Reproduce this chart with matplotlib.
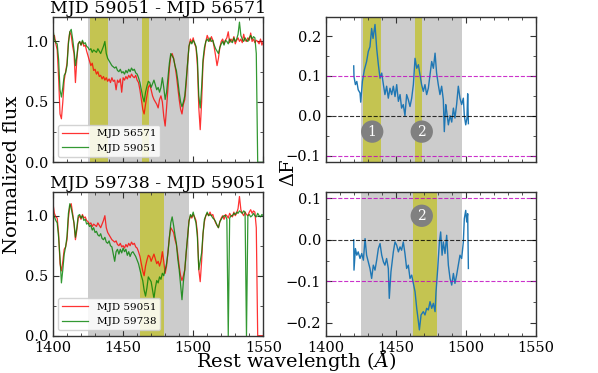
import numpy as np
import matplotlib
matplotlib.use("Agg")
import matplotlib.pyplot as plt
from matplotlib.ticker import MultipleLocator

plt.rcParams['font.family'] = 'serif'
plt.rcParams['font.serif'] = ['DejaVu Serif']
plt.rcParams['mathtext.fontset'] = 'dejavuserif'

# spectra sampled on a 1 A grid, 1400..1550
wave = np.arange(1400, 1551, 1.0)

flux_56571 = [
    1.02, 1.05, 0.98, 0.93, 0.70, 0.40, 0.36, 0.50, 0.68, 0.75,
    0.82, 1.00, 1.08, 1.05, 0.96, 0.90, 0.66, 0.85, 0.98, 1.00,
    0.97, 1.00, 0.96, 0.97, 0.92, 0.88, 0.84, 0.80, 0.82, 0.76,
    0.77, 0.73, 0.75, 0.71, 0.72, 0.69, 0.71, 0.68, 0.70, 0.67,
    0.69, 0.66, 0.70, 0.67, 0.68, 0.60, 0.68, 0.66, 0.69, 0.58,
    0.70, 0.68, 0.71, 0.69, 0.72, 0.70, 0.73, 0.71, 0.70, 0.72,
    0.68, 0.66, 0.60, 0.52, 0.44, 0.40, 0.48, 0.55, 0.62, 0.64,
    0.60, 0.55, 0.52, 0.50, 0.48, 0.45, 0.52, 0.55, 0.50, 0.38,
    0.30, 0.45, 0.62, 0.78, 0.88, 0.90, 0.86, 0.80, 0.72, 0.62,
    0.52, 0.44, 0.40, 0.48, 0.52, 0.65, 0.82, 0.96, 1.02, 0.99,
    1.03, 0.98, 0.95, 0.80, 0.45, 0.27, 0.50, 0.82, 0.92, 1.00,
    1.05, 1.02, 1.00, 1.04, 1.01, 0.95, 0.88, 0.80, 0.86, 0.95,
    1.00, 1.02, 0.98, 1.01, 1.03, 1.08, 0.99, 1.02, 1.00, 1.04,
    0.98, 1.01, 1.03, 1.00, 1.02, 0.99, 1.06, 1.01, 1.00, 1.03,
    1.01, 1.07, 1.00, 1.02, 0.99, 1.01, 1.00, 0.98, 1.02, 0.97,
    1.00]

flux_59051 = [
    1.10, 1.02, 0.99, 0.98, 0.85, 0.60, 0.54, 0.62, 0.72, 0.74,
    0.80, 0.98, 1.08, 1.10, 1.02, 0.93, 0.80, 0.88, 0.98, 1.00,
    0.97, 1.01, 0.98, 0.99, 0.96, 0.95, 0.93, 0.94, 0.91, 0.93,
    0.92, 0.91, 0.94, 0.92, 0.90, 0.93, 0.96, 1.00, 0.90, 0.86,
    0.84, 0.82, 0.80, 0.79, 0.78, 0.79, 0.76, 0.75, 0.77, 0.74,
    0.75, 0.73, 0.76, 0.74, 0.77, 0.75, 0.78, 0.76, 0.77, 0.74,
    0.73, 0.70, 0.66, 0.60, 0.54, 0.50, 0.58, 0.63, 0.67, 0.66,
    0.62, 0.65, 0.68, 0.64, 0.60, 0.62, 0.58, 0.62, 0.70, 0.62,
    0.52, 0.58, 0.70, 0.82, 0.90, 0.88, 0.86, 0.80, 0.76, 0.68,
    0.58, 0.50, 0.46, 0.50, 0.55, 0.68, 0.82, 0.96, 1.00, 0.98,
    1.01, 0.99, 0.96, 0.86, 0.55, 0.45, 0.62, 0.85, 0.95, 1.00,
    1.02, 1.00, 1.03, 1.00, 1.01, 0.97, 0.94, 0.92, 0.90, 0.95,
    0.98, 1.00, 0.97, 1.01, 1.00, 0.98, 1.02, 1.00, 0.99, 1.03,
    1.00, 1.02, 1.06, 1.16, 1.05, 1.02, 1.00, 1.03, 1.01, 1.00,
    1.03, 1.05, 1.02, 1.04, 1.03, 0.90, 0.00, 0.00, 0.00, 0.00,
    0.00]

flux_59738 = [
    1.03, 0.99, 0.96, 0.94, 0.82, 0.65, 0.44, 0.55, 0.68, 0.74,
    0.83, 1.02, 1.10, 1.06, 1.00, 0.94, 0.82, 0.90, 1.00, 1.01,
    0.98, 1.00, 0.96, 0.97, 0.93, 0.94, 0.91, 0.92, 0.88, 0.90,
    0.86, 0.87, 0.84, 0.83, 0.85, 0.81, 0.80, 0.82, 0.78, 0.77,
    0.79, 0.75, 0.74, 0.68, 0.62, 0.70, 0.72, 0.68, 0.72, 0.69,
    0.73, 0.70, 0.72, 0.67, 0.70, 0.66, 0.69, 0.70, 0.68, 0.66,
    0.63, 0.60, 0.55, 0.50, 0.46, 0.38, 0.33, 0.40, 0.49, 0.47,
    0.45, 0.38, 0.31, 0.40, 0.46, 0.44, 0.49, 0.47, 0.52, 0.50,
    0.55, 0.60, 0.69, 0.82, 0.94, 0.99, 0.92, 0.84, 0.77, 0.64,
    0.55, 0.42, 0.30, 0.45, 0.55, 0.70, 0.83, 0.95, 1.01, 0.99,
    1.03, 0.98, 0.94, 0.82, 0.55, 0.62, 0.69, 0.85, 0.97, 1.00,
    1.03, 1.00, 1.01, 1.00, 0.98, 0.97, 0.95, 0.92, 0.90, 0.95,
    0.97, 0.99, 1.00, 1.00, 0.97, 0.00, 0.98, 1.00, 1.00, 1.02,
    1.01, 1.03, 1.02, 1.04, 1.03, 1.02, 1.04, 1.03, 0.00, 1.00,
    1.01, 0.99, 1.00, 1.02, 1.00, 0.99, 1.02, 1.00, 0.99, 1.01,
    1.00]

# flux differences (smoothed)
dwave_1 = [1419.8, 1420, 1421, 1422, 1423, 1424.3, 1424.8, 1426, 1427.4, 1429,
           1430.2, 1431.4, 1432.6, 1433.6, 1435, 1436.2, 1437.4, 1438.6, 1439.8, 1441,
           1442.1, 1443.3, 1444.5, 1445.7, 1446.9, 1448.1, 1449.3, 1450.5, 1451.7, 1452.9,
           1454, 1455.2, 1456.4, 1457.6, 1458.8, 1460, 1461.2, 1462.4, 1463.6, 1464.8,
           1466, 1467.1, 1468.3, 1469.5, 1470.7, 1471.9, 1473.1, 1474.3, 1475.5, 1476.7,
           1477.9, 1479, 1480.2, 1481.4, 1482.6, 1483.8, 1484.5, 1485.5, 1486.2, 1487.4,
           1488.6, 1489.8, 1491, 1492.1, 1493.3, 1494.5, 1495.7, 1496.9, 1498.1, 1498.8,
           1499.8, 1500.7, 1501.2, 1501.7]
dflux_1 = [0.125, 0.098, 0.078, 0.086, 0.065, 0.057, 0.034, 0.086, 0.115, 0.136,
           0.161, 0.173, 0.219, 0.194, 0.229, 0.169, 0.128, 0.094, 0.107, 0.078,
           0.053, 0.074, 0.044, 0.069, 0.053, 0.074, 0.048, 0.078, 0.036, 0.053,
           0.019, 0.028, 0.0, 0.053, 0.040, 0.023, 0.044, 0.078, 0.144, 0.119,
           0.128, 0.103, 0.078, 0.061, 0.078, 0.053, 0.069, 0.103, 0.136, 0.119,
           0.157, 0.107, 0.078, 0.053, 0.074, 0.040, -0.04, 0.028, 0.011, -0.023,
           0.0, -0.016, 0.019, -0.006, 0.028, 0.074, 0.044, 0.028, 0.044, 0.0,
           -0.023, -0.006, 0.055, -0.02]

dwave_2 = [1419.8, 1420, 1421, 1422, 1423, 1424.3, 1425.5, 1426.7, 1427.9, 1429,
           1430.2, 1431.4, 1432.6, 1433.8, 1435, 1436.2, 1437.4, 1438.6, 1439.8, 1441,
           1442.1, 1443.3, 1444.5, 1445.2, 1446.4, 1448.1, 1449.3, 1450.5, 1451.7, 1452.9,
           1454, 1455.2, 1456.4, 1457.6, 1458.8, 1460, 1461.2, 1462.4, 1463.6, 1464.8,
           1466, 1466.7, 1467.9, 1469.5, 1470.7, 1471.9, 1473.1, 1474.3, 1475.5, 1476.7,
           1477.9, 1478.6, 1479.8, 1481, 1481.9, 1482.9, 1483.8, 1485, 1486.2, 1487.4,
           1488.6, 1489.8, 1491, 1492.1, 1493.3, 1494.5, 1495.7, 1496.9, 1498.1, 1498.8,
           1499.8, 1500.5, 1501.2, 1501.7]
dflux_2 = [0.0, -0.073, -0.021, -0.037, -0.029, -0.045, -0.033, -0.049, 0.003, -0.037,
           -0.053, -0.069, -0.093, -0.061, -0.073, -0.049, -0.021, -0.009, -0.037, -0.053,
           -0.061, -0.045, -0.069, -0.141, -0.077, -0.029, -0.005, -0.013, -0.029, -0.017,
           -0.025, -0.005, -0.033, -0.069, -0.061, -0.093, -0.085, -0.105, -0.125, -0.165,
           -0.197, -0.217, -0.181, -0.173, -0.181, -0.165, -0.169, -0.149, -0.165, -0.153,
           -0.173, -0.125, -0.069, -0.005, 0.019, -0.037, -0.005, -0.033, 0.011, -0.061,
           -0.093, -0.109, -0.081, -0.105, -0.085, -0.061, -0.037, -0.045, -0.005, 0.051,
           0.071, 0.043, 0.063, -0.069]

gray_band = (1424.7, 1497.0)
yellow_1 = [(1426.2, 1439.0), (1463.7, 1468.5)]
yellow_2 = [(1462.0, 1479.3)]


def style_axes(ax, ymin, ymax, ymajor, yminor):
    ax.set_xlim(1400, 1550)
    ax.set_ylim(ymin, ymax)
    ax.xaxis.set_major_locator(MultipleLocator(50))
    ax.xaxis.set_minor_locator(MultipleLocator(10))
    ax.yaxis.set_major_locator(MultipleLocator(ymajor))
    ax.yaxis.set_minor_locator(MultipleLocator(yminor))
    ax.tick_params(which='both', direction='in', top=True, right=True,
                   color='0.2', labelsize=10.5)
    ax.tick_params(which='major', length=4)
    ax.tick_params(which='minor', length=2)
    for s in ax.spines.values():
        s.set_color('0.2')
        s.set_linewidth(1.0)


def bands(ax, yellows):
    ax.axvspan(*gray_band, color='gray', alpha=0.4, lw=0)
    for a, b in yellows:
        ax.axvspan(a, b, color='y', alpha=0.6, lw=0)


def circle(ax, x, y, s):
    ax.text(x, y, s, color='white', fontsize=10, ha='center', va='center',
            bbox=dict(boxstyle='circle,pad=0.3', fc='gray', ec='none'))


fig = plt.figure(figsize=(5.98, 3.73), dpi=100)
W, H = 598.0, 373.0
ax1 = fig.add_axes([53 / W, 1 - 162.3 / H, 210.3 / W, 145 / H])
ax2 = fig.add_axes([53 / W, 1 - 335.7 / H, 210.3 / W, 144 / H])
ax3 = fig.add_axes([326 / W, 1 - 162.3 / H, 210 / W, 145 / H])
ax4 = fig.add_axes([326 / W, 1 - 335.7 / H, 210 / W, 144 / H])

# top left
bands(ax1, yellow_1)
ax1.plot(wave, flux_56571, color='r', lw=0.9, alpha=0.8, label='MJD 56571')
ax1.plot(wave, flux_59051, color='g', lw=0.9, alpha=0.8, label='MJD 59051')
style_axes(ax1, 0, 1.2, 0.5, 0.25)
ax1.set_xticklabels([])
ax1.set_title('MJD 59051 - MJD 56571', fontsize=12.5, pad=2)
ax1.legend(loc='lower left', fontsize=7.5, framealpha=0.85, handlelength=2.5)

# bottom left
bands(ax2, yellow_2)
ax2.plot(wave, flux_59051, color='r', lw=0.9, alpha=0.8, label='MJD 59051')
ax2.plot(wave, flux_59738, color='g', lw=0.9, alpha=0.8, label='MJD 59738')
style_axes(ax2, 0, 1.2, 0.5, 0.25)
ax2.set_title('MJD 59738 - MJD 59051', fontsize=12.5, pad=2)
ax2.legend(loc='lower left', fontsize=7.5, framealpha=0.85, handlelength=2.5)

# top right
bands(ax3, yellow_1)
ax3.plot(dwave_1, dflux_1, color='C0', lw=1.0)
for v, c in [(0.1, 'm'), (0.0, 'k'), (-0.1, 'm')]:
    ax3.axhline(v, color=c, ls='--', lw=0.8, alpha=0.8)
style_axes(ax3, -0.117, 0.247, 0.1, 0.05)
ax3.set_xticklabels([])
circle(ax3, 1433.0, -0.04, '1')
circle(ax3, 1468.4, -0.04, '2')

# bottom right
bands(ax4, yellow_2)
ax4.plot(dwave_2, dflux_2, color='C0', lw=1.0)
for v, c in [(0.1, 'm'), (0.0, 'k'), (-0.1, 'm')]:
    ax4.axhline(v, color=c, ls='--', lw=0.8, alpha=0.8)
style_axes(ax4, -0.231, 0.116, 0.1, 0.05)
circle(ax4, 1468.4, 0.058, '2')

fig.text(12 / W, 1 - 175 / H, 'Normalized flux', rotation=90,
         ha='center', va='center', fontsize=14)
fig.text(288 / W, 1 - 172 / H, 'ΔF', rotation=90,
         ha='center', va='center', fontsize=14)
fig.text(296 / W, 1 - 367 / H, r'Rest wavelength ($\mathit{Å}$)',
         ha='center', va='baseline', fontsize=14)

fig.savefig('out.png', dpi=100)
